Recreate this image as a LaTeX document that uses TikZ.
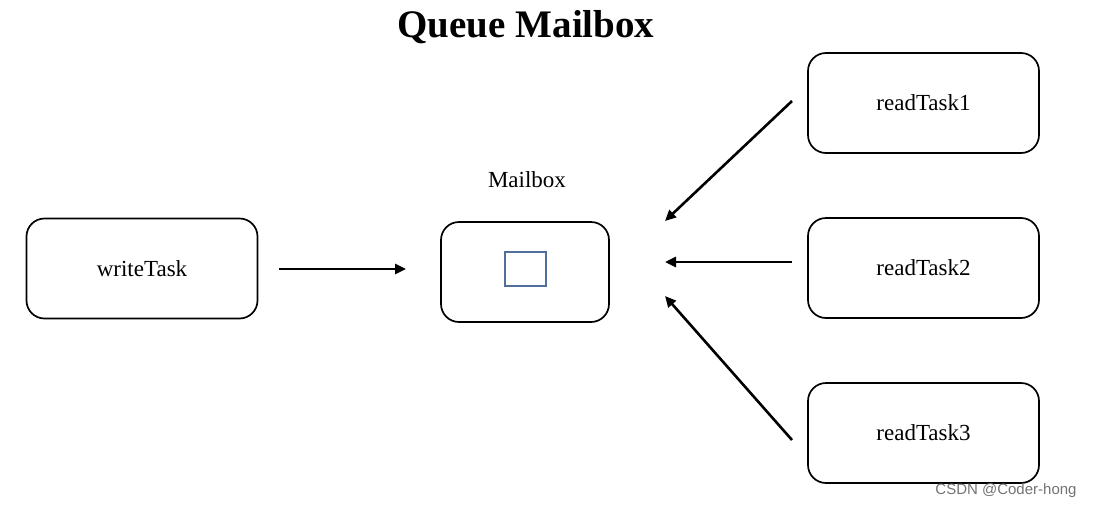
\documentclass[tikz,border=0pt]{standalone}
\usepackage{fontspec}
\setmainfont{Liberation Serif}
\setsansfont{Liberation Sans}
\usetikzlibrary{arrows.meta}
\definecolor{slotblue}{RGB}{80,112,155}
\begin{document}
\begin{tikzpicture}[x=1pt,y=-1pt,
    taskbox/.style={draw, rounded corners=18pt, line width=1.7pt, minimum width=231pt, minimum height=100pt, font=\fontsize{23}{27}\selectfont},
    flow/.style={-{Triangle[length=11pt,width=10pt]}, line width=2.6pt}]
    \useasboundingbox (0,0) rectangle (1093,509);
    \node[font=\bfseries\fontsize{39}{45}\selectfont] (title) at (526,27) {Queue Mailbox};
    \node[taskbox] (write) at (142,268.5) {writeTask};
    \node[taskbox, minimum width=168pt] (mailbox) at (525,272) {};
    \node[draw=slotblue, line width=1.4pt, minimum width=41pt, minimum height=34pt] (slot) at (525.5,269) {};
    \node[font=\fontsize{23}{27}\selectfont] (mblabel) at (527,180) {Mailbox};
    \node[taskbox] (read1) at (923.5,103) {readTask1};
    \node[taskbox] (read2) at (923.5,268) {readTask2};
    \node[taskbox] (read3) at (923.5,433) {readTask3};
    \coordinate (w1) at (279,269);
    \coordinate (w2) at (406,269);
    \coordinate (r1a) at (792,101);
    \coordinate (r1b) at (665,221);
    \coordinate (r2a) at (792,262);
    \coordinate (r2b) at (665,262);
    \coordinate (r3a) at (792,440);
    \coordinate (r3b) at (665,296);
    \draw[flow] (w1) -- (w2);
    \draw[flow] (r1a) -- (r1b);
    \draw[flow] (r2a) -- (r2b);
    \draw[flow] (r3a) -- (r3b);
    \node[font=\sffamily\fontsize{15}{18}\selectfont, text=black!55] (mark) at (1006,491) {CSDN @Coder-hong};
\end{tikzpicture}
\end{document}
